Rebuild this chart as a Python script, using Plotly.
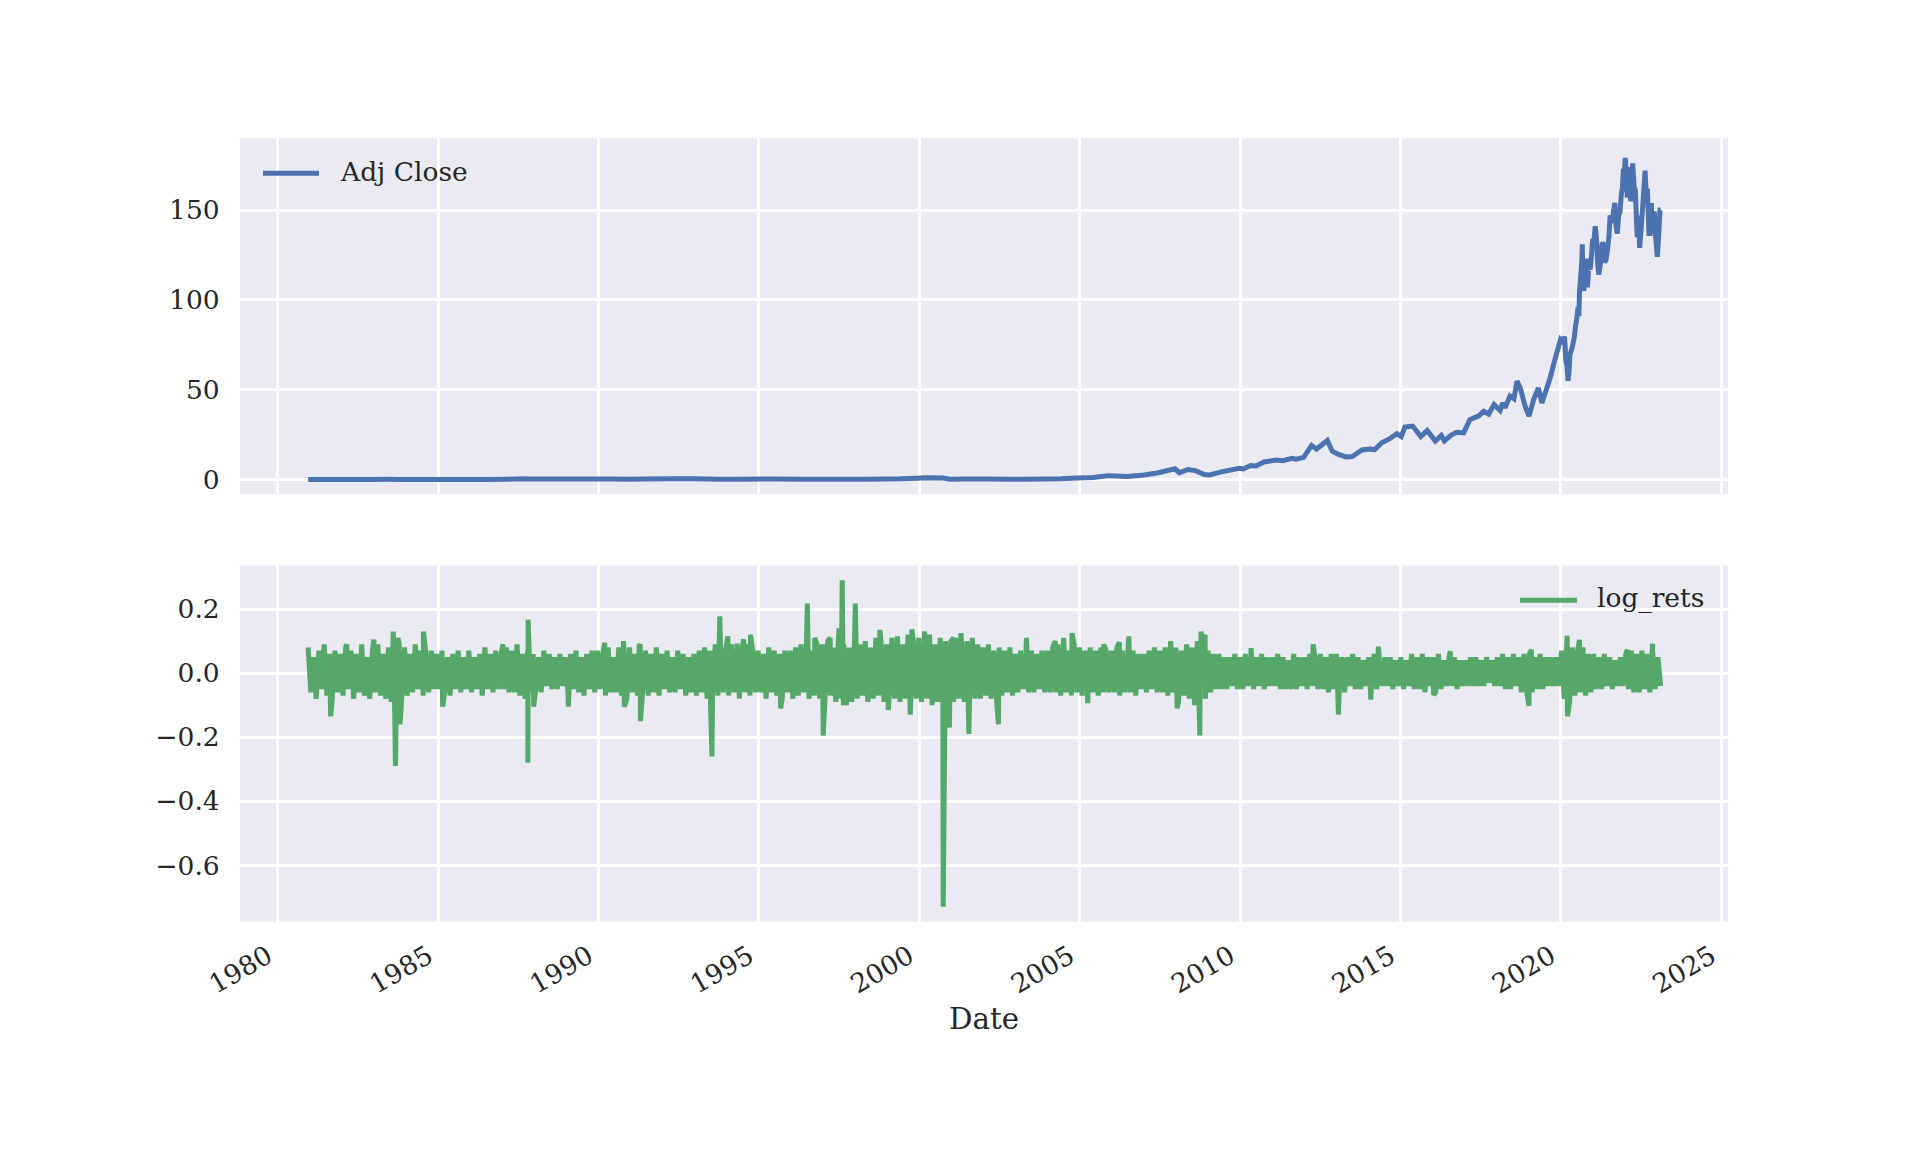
import pandas as pd
import plotly.graph_objects as go

# ---------------- data ----------------
adj_dates = [
    "1980-12-12", "1981-03-01", "1981-08-01", "1982-01-01", "1982-08-01", "1983-01-01",
    "1983-06-01", "1983-10-01", "1984-06-01", "1985-01-01", "1985-09-01", "1986-06-01",
    "1987-03-01", "1987-09-01", "1987-12-01", "1988-06-01", "1989-06-01", "1990-06-01",
    "1990-12-01", "1991-06-01", "1992-03-01", "1993-01-01", "1993-10-01", "1994-06-01",
    "1995-06-01", "1996-06-01", "1997-06-01", "1998-06-01", "1999-06-01", "1999-12-01",
    "2000-03-20", "2000-09-28", "2000-12-15", "2001-06-01", "2002-03-01", "2002-10-01",
    "2003-04-01", "2003-12-01", "2004-06-01", "2004-12-01", "2005-06-01", "2005-12-01",
    "2006-07-01", "2007-01-01", "2007-06-01", "2007-12-20", "2008-02-10", "2008-05-15",
    "2008-08-10", "2008-11-20", "2009-01-20", "2009-06-01", "2009-12-25", "2010-02-05",
    "2010-05-01", "2010-06-30", "2010-10-01", "2011-02-15", "2011-05-01", "2011-08-15",
    "2011-10-01", "2011-12-25", "2012-03-25", "2012-05-20", "2012-09-20", "2012-11-15",
    "2013-01-25", "2013-04-20", "2013-07-01", "2013-10-20", "2014-01-20", "2014-03-10",
    "2014-06-01", "2014-09-01", "2014-11-20", "2015-01-10", "2015-02-20", "2015-05-20",
    "2015-08-20", "2015-11-01", "2016-02-01", "2016-04-10", "2016-05-15", "2016-08-01",
    "2016-10-01", "2016-12-20", "2017-03-01", "2017-06-10", "2017-08-05", "2017-10-01",
    "2017-12-01", "2018-02-08", "2018-03-10", "2018-04-05", "2018-06-01", "2018-07-15",
    "2018-08-20", "2018-09-25", "2018-11-20", "2019-01-03", "2019-02-25", "2019-04-20",
    "2019-05-30", "2019-07-25", "2019-09-01", "2019-10-30", "2019-12-28",
    "2020-01-17", "2020-02-12", "2020-02-28", "2020-03-09", "2020-03-23", "2020-04-01",
    "2020-04-15", "2020-04-30", "2020-05-15", "2020-06-01", "2020-06-15", "2020-07-01",
    "2020-07-15", "2020-07-24", "2020-07-31", "2020-08-14", "2020-08-28", "2020-09-01",
    "2020-09-08", "2020-09-18", "2020-10-01", "2020-10-12", "2020-10-30", "2020-11-13",
    "2020-11-30", "2020-12-15", "2020-12-28", "2021-01-05", "2021-01-26", "2021-02-08",
    "2021-02-25", "2021-03-08", "2021-03-19", "2021-04-01", "2021-04-16", "2021-04-28",
    "2021-05-12", "2021-05-28", "2021-06-15", "2021-07-01", "2021-07-15", "2021-07-29",
    "2021-08-15", "2021-09-07", "2021-09-20", "2021-10-04", "2021-10-20", "2021-11-05",
    "2021-11-20", "2021-12-01", "2021-12-13", "2021-12-20", "2022-01-03", "2022-01-14",
    "2022-01-27", "2022-02-09", "2022-02-24", "2022-03-08", "2022-03-29", "2022-04-14",
    "2022-04-28", "2022-05-11", "2022-05-20", "2022-06-01", "2022-06-16", "2022-07-01",
    "2022-07-15", "2022-08-01", "2022-08-17", "2022-09-02", "2022-09-12", "2022-09-30",
    "2022-10-14", "2022-10-28", "2022-11-03", "2022-11-16", "2022-12-01", "2022-12-15",
    "2023-01-03", "2023-01-18", "2023-02-02", "2023-02-10",
]
adj_close = [
    0.10, 0.09, 0.08, 0.06, 0.05, 0.11,
    0.15, 0.07, 0.09, 0.09, 0.05, 0.12,
    0.25, 0.40, 0.27, 0.33, 0.32, 0.30,
    0.25, 0.35, 0.50, 0.45, 0.21, 0.22,
    0.34, 0.18, 0.13, 0.25, 0.40, 0.78,
    1.02, 0.85, 0.22, 0.32, 0.35, 0.21,
    0.22, 0.33, 0.50, 0.95, 1.15, 2.20,
    1.75, 2.60, 3.70, 6.00, 3.80, 5.60,
    5.00, 2.80, 2.60, 4.30, 6.30, 5.90,
    7.80, 7.60, 9.80, 10.90, 10.50, 11.80,
    11.30, 12.40, 19.00, 17.00, 21.80, 15.80,
    14.00, 12.60, 12.80, 16.50, 17.00, 16.60,
    20.50, 22.80, 25.50, 24.00, 29.20, 29.80,
    24.00, 27.30, 21.40, 24.50, 21.50, 24.80,
    26.30, 26.00, 33.40, 35.50, 38.00, 36.50,
    41.80, 38.50, 42.70, 40.00, 46.50, 45.00,
    54.80, 51.00, 40.90, 35.30, 44.60, 51.00,
    42.70, 51.00, 56.70, 67.80, 78.00,
    77.0, 79.5, 66.0, 64.0, 55.0, 59.0,
    70.0, 72.0, 75.0, 79.0, 85.0, 90.0,
    96.0, 91.0, 105.0, 113.0, 123.0, 131.0,
    111.0, 105.0, 115.0, 123.0, 107.0, 118.0,
    117.0, 125.0, 134.0, 129.0, 141.0, 135.0,
    119.0, 114.0, 118.0, 121.0, 132.0, 131.0,
    121.0, 122.0, 128.0, 135.0, 147.0, 143.0,
    147.0, 154.0, 141.0, 137.0, 147.0, 149.0,
    159.0, 162.0, 173.0, 168.0, 179.0, 171.0,
    157.0, 174.0, 160.0, 155.0, 176.0, 163.0,
    161.0, 144.0, 135.0, 147.0, 129.0, 138.0,
    148.0, 160.0, 172.0, 155.0, 162.0, 137.0,
    137.0, 154.0, 137.0, 148.0, 148.0, 135.0,
    124.0, 135.0, 150.0, 150.0,
]

# background band of daily log returns (alternating highs/lows, 12 per year)
band_rets = [
    0.08, -0.06, 0.05, -0.08, 0.07, -0.05, 0.09, -0.07, 0.06, -0.08, 0.07, -0.06,   # 1981
    0.06, -0.07, 0.08, -0.05, 0.07, -0.08, 0.06, -0.06, 0.09, -0.07, 0.05, -0.08,   # 1982
    0.07, -0.06, 0.09, -0.07, 0.06, -0.08, 0.08, -0.09, 0.07, -0.06, 0.09, -0.07,   # 1983
    0.08, -0.07, 0.06, -0.06, 0.09, -0.05, 0.07, -0.07, 0.06, -0.06, 0.07, -0.05,   # 1984
    0.06, -0.05, 0.07, -0.06, 0.05, -0.07, 0.06, -0.05, 0.07, -0.06, 0.05, -0.05,   # 1985
    0.07, -0.06, 0.05, -0.05, 0.06, -0.07, 0.08, -0.05, 0.06, -0.06, 0.07, -0.05,   # 1986
    0.06, -0.05, 0.08, -0.06, 0.07, -0.06, 0.09, -0.07, 0.06, -0.08, 0.07, -0.06,   # 1987
    0.06, -0.05, 0.05, -0.06, 0.07, -0.04, 0.06, -0.05, 0.05, -0.05, 0.06, -0.04,   # 1988
    0.05, -0.06, 0.06, -0.05, 0.07, -0.06, 0.05, -0.07, 0.06, -0.05, 0.07, -0.06,   # 1989
    0.07, -0.05, 0.06, -0.07, 0.08, -0.06, 0.05, -0.06, 0.08, -0.07, 0.06, -0.08,   # 1990
    0.08, -0.06, 0.06, -0.07, 0.09, -0.05, 0.07, -0.07, 0.06, -0.06, 0.08, -0.07,   # 1991
    0.06, -0.05, 0.07, -0.06, 0.05, -0.06, 0.07, -0.05, 0.06, -0.07, 0.05, -0.06,   # 1992
    0.06, -0.07, 0.07, -0.06, 0.08, -0.08, 0.07, -0.06, 0.09, -0.07, 0.08, -0.06,   # 1993
    0.08, -0.07, 0.09, -0.06, 0.07, -0.08, 0.08, -0.06, 0.09, -0.07, 0.07, -0.06,   # 1994
    0.07, -0.06, 0.06, -0.08, 0.08, -0.06, 0.07, -0.07, 0.06, -0.08, 0.07, -0.06,   # 1995
    0.07, -0.08, 0.08, -0.07, 0.09, -0.06, 0.08, -0.08, 0.07, -0.07, 0.09, -0.08,   # 1996
    0.09, -0.08, 0.10, -0.07, 0.08, -0.09, 0.11, -0.08, 0.09, -0.10, 0.08, -0.09,   # 1997
    0.10, -0.08, 0.09, -0.07, 0.10, -0.09, 0.08, -0.08, 0.11, -0.07, 0.09, -0.09,   # 1998
    0.09, -0.07, 0.11, -0.08, 0.10, -0.09, 0.09, -0.08, 0.12, -0.09, 0.10, -0.08,   # 1999
    0.11, -0.09, 0.10, -0.08, 0.12, -0.10, 0.09, -0.09, 0.11, -0.10, 0.10, -0.09,   # 2000
    0.10, -0.09, 0.11, -0.08, 0.09, -0.09, 0.10, -0.07, 0.11, -0.08, 0.09, -0.08,   # 2001
    0.08, -0.07, 0.09, -0.08, 0.07, -0.08, 0.08, -0.07, 0.07, -0.06, 0.08, -0.07,   # 2002
    0.06, -0.06, 0.07, -0.05, 0.06, -0.06, 0.07, -0.06, 0.06, -0.05, 0.07, -0.06,   # 2003
    0.07, -0.06, 0.08, -0.06, 0.09, -0.07, 0.08, -0.06, 0.07, -0.07, 0.09, -0.06,   # 2004
    0.08, -0.07, 0.07, -0.06, 0.08, -0.06, 0.07, -0.07, 0.08, -0.06, 0.07, -0.06,   # 2005
    0.07, -0.06, 0.08, -0.07, 0.07, -0.06, 0.06, -0.06, 0.07, -0.07, 0.06, -0.05,   # 2006
    0.06, -0.06, 0.07, -0.05, 0.08, -0.06, 0.07, -0.06, 0.08, -0.07, 0.09, -0.06,   # 2007
    0.08, -0.09, 0.07, -0.07, 0.09, -0.08, 0.08, -0.10, 0.10, -0.09, 0.09, -0.08,   # 2008
    0.07, -0.06, 0.06, -0.05, 0.06, -0.05, 0.05, -0.05, 0.05, -0.04, 0.06, -0.05,   # 2009
    0.05, -0.05, 0.06, -0.04, 0.05, -0.05, 0.05, -0.04, 0.06, -0.05, 0.05, -0.04,   # 2010
    0.05, -0.04, 0.06, -0.05, 0.05, -0.05, 0.04, -0.05, 0.06, -0.05, 0.05, -0.04,   # 2011
    0.05, -0.05, 0.06, -0.04, 0.05, -0.05, 0.06, -0.05, 0.05, -0.06, 0.06, -0.05,   # 2012
    0.06, -0.05, 0.05, -0.06, 0.05, -0.04, 0.06, -0.05, 0.05, -0.05, 0.04, -0.04,   # 2013
    0.05, -0.04, 0.06, -0.05, 0.04, -0.04, 0.05, -0.04, 0.05, -0.05, 0.04, -0.04,   # 2014
    0.05, -0.05, 0.04, -0.04, 0.06, -0.05, 0.05, -0.05, 0.06, -0.06, 0.05, -0.04,   # 2015
    0.05, -0.06, 0.06, -0.05, 0.04, -0.04, 0.05, -0.04, 0.05, -0.05, 0.04, -0.04,   # 2016
    0.04, -0.04, 0.05, -0.04, 0.05, -0.04, 0.04, -0.04, 0.05, -0.03, 0.04, -0.04,   # 2017
    0.05, -0.04, 0.06, -0.05, 0.05, -0.05, 0.06, -0.04, 0.05, -0.06, 0.06, -0.06,   # 2018
    0.06, -0.06, 0.05, -0.05, 0.06, -0.05, 0.05, -0.04, 0.05, -0.04, 0.05, -0.04,   # 2019
    0.07, -0.08, 0.10, -0.09, 0.08, -0.07, 0.07, -0.06, 0.08, -0.07, 0.06, -0.06,   # 2020
    0.06, -0.05, 0.05, -0.05, 0.06, -0.04, 0.05, -0.05, 0.04, -0.04, 0.05, -0.04,   # 2021
    0.06, -0.05, 0.07, -0.06, 0.06, -0.06, 0.07, -0.05, 0.06, -0.06, 0.07, -0.05,   # 2022
    0.05, -0.04,                                                                    # 2023
]

# prominent single-day spikes
spike_dates = [
    "1981-08-25", "1982-02-24", "1982-12-30", "1983-08-08", "1983-09-02", "1983-10-01",
    "1983-10-24", "1984-07-17", "1985-02-20", "1987-01-08", "1987-10-19", "1987-10-22",
    "1987-12-24", "1989-01-22", "1990-03-12", "1990-10-12", "1990-10-20", "1991-04-08",
    "1991-04-22", "1993-06-30", "1993-07-15", "1993-10-12", "1994-01-12", "1994-04-27",
    "1994-07-12", "1994-09-27", "1995-09-05", "1996-07-05", "1996-09-27", "1997-01-02",
    "1997-03-22", "1997-07-01", "1997-08-06", "1997-08-20", "1998-01-02", "1998-10-09",
    "1999-01-12", "1999-04-27", "1999-09-20", "1999-10-08", "2000-03-01", "2000-09-29",
    "2000-12-08", "2001-01-25", "2001-04-19", "2001-07-18", "2002-06-20", "2003-05-05",
    "2004-03-28", "2004-07-01", "2004-10-05", "2005-04-01", "2005-10-01", "2006-03-28",
    "2006-07-13", "2007-11-02", "2008-01-15", "2008-09-29", "2008-10-13", "2008-11-28",
    "2010-05-05", "2012-04-10", "2013-01-24", "2014-01-28", "2014-04-24", "2016-01-12",
    "2016-07-20", "2019-01-03", "2019-01-30", "2020-03-13", "2020-03-16", "2020-07-31",
    "2022-01-28", "2022-11-10",
]
spike_rets = [
    -0.135, 0.09, 0.105, 0.13, -0.29, 0.11,
    -0.16, 0.13, -0.105, 0.09, -0.28, 0.167,
    -0.105, -0.105, 0.095, 0.10, -0.105, 0.085,
    -0.15, -0.115, -0.26, 0.177, 0.115, 0.092,
    0.106, 0.12, -0.11, 0.217, 0.11, -0.195,
    0.11, 0.14, 0.29, -0.10, 0.217, 0.135,
    -0.115, 0.115, -0.13, 0.137, 0.13, -0.73,
    -0.17, 0.11, 0.125, -0.19, -0.16, 0.11,
    0.10, 0.11, 0.125, -0.094, 0.09, 0.096,
    0.115, 0.10, -0.11, -0.195, 0.13, 0.12,
    0.078, 0.09, -0.13, -0.083, 0.083, -0.068,
    0.068, -0.102, 0.073, 0.117, -0.135, 0.104,
    0.073, 0.092,
]

x_tick_vals = ["1980-01-01", "1985-01-01", "1990-01-01", "1995-01-01", "2000-01-01",
               "2005-01-01", "2010-01-01", "2015-01-01", "2020-01-01", "2025-01-01"]
x_tick_labels = ["1980", "1985", "1990", "1995", "2000", "2005", "2010", "2015", "2020", "2025"]
y1_tick_vals = [0, 50, 100, 150]
y1_tick_labels = ["0", "50", "100", "150"]
y2_tick_vals = [0.2, 0.0, -0.2, -0.4, -0.6]
y2_tick_labels = ["0.2", "0.0", "\u22120.2", "\u22120.4", "\u22120.6"]

# ---------------- build series ----------------
band_dates = pd.date_range("1980-12-12", "2023-02-10", periods=len(band_rets))
rets = pd.concat([
    pd.Series(band_rets, index=band_dates),
    pd.Series(spike_rets, index=pd.to_datetime(spike_dates)),
]).sort_index()

BLUE = "#4C72B0"
GREEN = "#55A868"
BG = "#EAEAF2"
TXT = "#262626"
FONT = "DejaVu Serif"
LW = 5.0
GW = 2.67
TICK_FS = 26.5

fig = go.Figure()
fig.add_trace(go.Scatter(x=pd.to_datetime(adj_dates), y=adj_close, mode="lines",
                         line=dict(color=BLUE, width=LW, simplify=False),
                         name="Adj Close", showlegend=False, xaxis="x", yaxis="y"))
fig.add_trace(go.Scatter(x=rets.index, y=rets.values, mode="lines",
                         line=dict(color=GREEN, width=LW, simplify=False),
                         name="log_rets", showlegend=False, xaxis="x2", yaxis="y2"))

XR = ["1978-10-28", "2025-03-18"]
xcommon = dict(type="date", range=XR, domain=[0.125, 0.9], tickvals=x_tick_vals,
               showgrid=True, gridcolor="white", gridwidth=GW, zeroline=False,
               showline=False, automargin=False)
ycommon = dict(showgrid=True, gridcolor="white", gridwidth=GW, zeroline=False,
               showline=False, ticks="outside", ticklen=14, tickcolor="rgba(0,0,0,0)",
               automargin=False,
               tickfont=dict(family=FONT, size=TICK_FS, color=TXT))

fig.update_layout(
    template="none",
    width=1920, height=1152,
    margin=dict(l=0, r=0, t=0, b=0, pad=0),
    paper_bgcolor="white", plot_bgcolor=BG,
    font=dict(family=FONT, color=TXT),
    showlegend=False,
    xaxis=dict(**xcommon, anchor="y", showticklabels=False, ticks=""),
    xaxis2=dict(**xcommon, anchor="y2", ticktext=x_tick_labels, tickangle=-30,
                ticks="outside", ticklen=8, tickcolor="rgba(0,0,0,0)",
                ticklabelshift=-10,
                tickfont=dict(family=FONT, size=TICK_FS, color=TXT)),
    yaxis=dict(**ycommon, anchor="x", domain=[0.5709, 0.88], range=[-8.2, 190],
               tickvals=y1_tick_vals, ticktext=y1_tick_labels),
    yaxis2=dict(**ycommon, anchor="x2", domain=[0.2, 0.50909], range=[-0.776, 0.336],
                tickvals=y2_tick_vals, ticktext=y2_tick_labels),
)

# hand-drawn legends (matplotlib-style, frameless)
def px_x(v):
    return v / 1920.0

def px_y(v):
    return 1 - v / 1152.0

shapes = [
    dict(type="line", xref="paper", yref="paper", x0=px_x(263), x1=px_x(319),
         y0=px_y(173.3), y1=px_y(173.3), line=dict(color=BLUE, width=LW)),
    dict(type="line", xref="paper", yref="paper", x0=px_x(1520), x1=px_x(1577),
         y0=px_y(600.3), y1=px_y(600.3), line=dict(color=GREEN, width=LW)),
]
annotations = [
    dict(text="Adj Close", xref="paper", yref="paper", x=px_x(338), y=px_y(171),
         xanchor="left", yanchor="middle", showarrow=False,
         font=dict(family=FONT, size=TICK_FS, color=TXT)),
    dict(text="log_rets", xref="paper", yref="paper", x=px_x(1595), y=px_y(598),
         xanchor="left", yanchor="middle", showarrow=False,
         font=dict(family=FONT, size=TICK_FS, color=TXT)),
    dict(text="Date", xref="paper", yref="paper", x=px_x(984), y=px_y(1019),
         xanchor="center", yanchor="middle", showarrow=False,
         font=dict(family=FONT, size=29.3, color=TXT)),
]
fig.update_layout(shapes=shapes, annotations=annotations)

fig.write_html("out.html")
